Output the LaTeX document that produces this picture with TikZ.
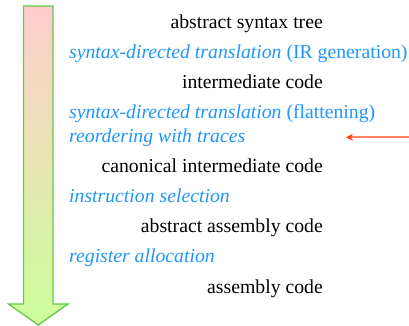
\documentclass[tikz,border=0pt]{standalone}
\usepackage{fontspec}
\setmainfont{Liberation Serif}
\usetikzlibrary{arrows.meta}
\definecolor{stagetext}{RGB}{0,0,0}
\definecolor{passblue}{RGB}{30,150,255}
\definecolor{flowtop}{RGB}{255,204,204}
\definecolor{flowbottom}{RGB}{204,255,153}
\definecolor{flowedge}{RGB}{100,200,70}
\definecolor{markerline}{RGB}{255,130,100}
\definecolor{markertip}{RGB}{255,60,10}
\begin{document}
\begin{tikzpicture}[x=1bp,y=-1bp,
  stage/.style={anchor=base east,inner sep=0pt,text=stagetext,font=\fontsize{19.8}{23}\selectfont},
  pass/.style={anchor=base west,inner sep=0pt,text=passblue,font=\fontsize{19.8}{23}\selectfont},
  flow/.style={top color=flowtop,bottom color=flowbottom,draw=flowedge,line width=1.3bp,line join=miter},
  pointer/.style={draw=markerline,line width=2bp,-{Stealth[length=7bp,width=7bp,color=markertip]}}]
\useasboundingbox (0,0) rectangle (409,326);
% big downward flow arrow
\shadedraw[flow] (23.5,6) -- (53,6) -- (53,304) -- (68,304) -- (38.3,325) -- (8.5,304) -- (23.5,304) -- cycle;
% stages (right aligned)
\node[stage] (ast)   at (323,28)  {abstract syntax tree};
\node[stage] (ir)    at (323,88)  {intermediate code};
\node[stage] (canon) at (323,172) {canonical intermediate code};
\node[stage] (aasm)  at (323,232) {abstract assembly code};
\node[stage] (asm)   at (323,293) {assembly code};
% passes (left aligned)
\node[pass] (irgen)   at (69,58)  {\textit{syntax-directed translation} (IR generation)};
\node[pass] (flatten) at (69,118) {\textit{syntax-directed translation} (flattening)};
\node[pass] (reorder) at (69,142) {\textit{reordering with traces}};
\node[pass] (isel)    at (69,202) {\textit{instruction selection}};
\node[pass] (regalloc) at (69,262) {\textit{register allocation}};
% marker pointing at the current pass
\coordinate (mstart) at (409,137.3);
\coordinate (mend) at (346,137.3);
\draw[pointer] (mstart) -- (mend);
\end{tikzpicture}
\end{document}
